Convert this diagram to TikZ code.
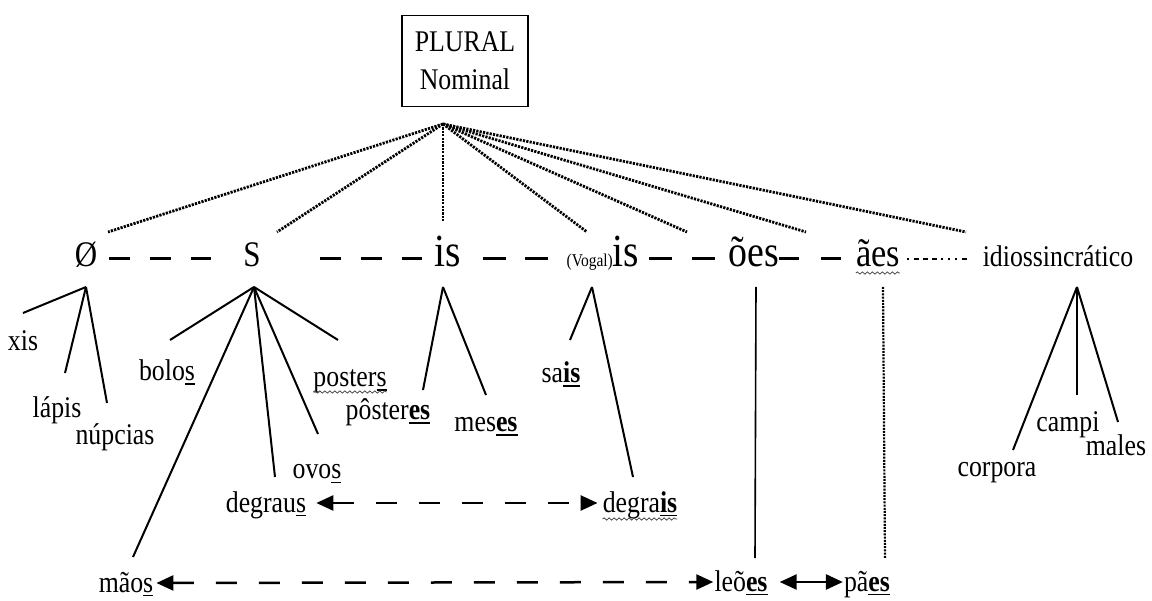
\documentclass[tikz,border=0pt]{standalone}
\usepackage{fontspec}
\setmainfont[FakeStretch=0.86]{Liberation Serif}
\usetikzlibrary{arrows.meta,decorations.pathmorphing,calc}
\newcommand{\ul}[1]{\leavevmode\setbox0\hbox{#1}\rlap{\raisebox{-4pt}{\rule{\wd0}{1.5pt}}}\box0}
\newcommand{\bul}[1]{\textbf{\ul{#1}}}
\begin{document}
\begin{tikzpicture}[x=1pt,y=-1pt,
  word/.style={inner sep=0pt, anchor=base, font=\fontsize{30}{34}\selectfont},
  mid/.style={inner sep=0pt, anchor=base, font=\fontsize{36}{40}\selectfont},
  big/.style={inner sep=0pt, anchor=base, font=\fontsize{46}{50}\selectfont},
  fan/.style={line width=2.8pt, dash pattern=on 2.2pt off 1.2pt},
  leg/.style={line width=2pt},
  rowdash/.style={line width=3pt, dash pattern=on 21pt off 20pt},
  arr/.style={line width=2.5pt, dash pattern=on 21pt off 22pt,
    {Triangle[length=17pt,width=15pt]}-{Triangle[length=17pt,width=15pt]}},
  wavy/.style={decorate, decoration={snake, amplitude=1.1pt, segment length=5pt}, line width=0.8pt, black!70}
]
\useasboundingbox (0,0) rectangle (1152,601);
\fill[white] (0,0) rectangle (1152,601);

% top box
\node[draw, line width=1.2pt, minimum width=126pt, minimum height=91pt, align=center,
  font=\fontsize{30}{38}\selectfont, inner sep=0pt] (plural) at (465,61) {PLURAL\\Nominal};
\coordinate (apex) at (443,124);

% level row
\node[mid] (zero) at (86,267) {Ø};
\node[mid] (S) at (252,267) {S};
\node[big] (is) at (448,267) {is};
\node[big] (vogal) at (603,267) {{\fontsize{18}{20}\selectfont(Vogal)}is};
\node[inner sep=0pt, anchor=base, font=\fontsize{44}{48}\selectfont] (oes) at (754,267) {ões};
\node[inner sep=0pt, anchor=base, font=\fontsize{40}{44}\selectfont] (aes) at (878,267) {ães};
\node[word] (idio) at (1058,267) {idiossincrático};

% fan ends
\coordinate (fzero) at (108,232);
\coordinate (fS) at (277,232);
\coordinate (fis) at (443,222);
\coordinate (fvogal) at (587,232);
\coordinate (foes) at (687,232);
\coordinate (faes) at (806,232);
\coordinate (fidio) at (966,232);
\foreach \e in {fzero,fS,fis,fvogal,foes,faes,fidio} \draw[fan] (apex) -- (\e);

% row dashes
\draw[rowdash, shorten <=12pt, shorten >=32pt] ([yshift=8pt]zero.base east) -- ([yshift=8pt]S.base west);
\draw[rowdash, shorten <=59pt, shorten >=13pt] ([yshift=8pt]S.base east) -- ([yshift=8pt]is.base west);
\draw[rowdash, dash pattern=on 23pt off 19pt, shorten <=22pt, shorten >=15pt] ([yshift=8pt]is.base east) -- ([yshift=8pt]vogal.base west);
\draw[rowdash, dash pattern=on 23pt off 20pt, shorten <=10pt, shorten >=10pt] ([yshift=8pt]vogal.base east) -- ([yshift=8pt]oes.base west);
\draw[rowdash, dash pattern=on 20pt off 22pt, shorten <=0pt, shorten >=7pt] ([yshift=8pt]oes.base east) -- ([yshift=8pt]aes.base west);
\draw[line width=2pt, dash pattern=on 2pt off 5pt on 5pt off 4pt on 5pt off 4pt on 5pt off 4pt on 2pt off 5pt on 2pt off 5pt, shorten <=7pt, shorten >=12pt] ([yshift=8pt]aes.base east) -- ([yshift=8pt]idio.base west);

% words
\node[word] (xis) at (23,351) {xis};
\node[word] (lapis) at (57,418) {lápis};
\node[word] (nupcias) at (115,445) {núpcias};
\node[word] (bolos) at (167,381) {bolo\ul{s}};
\node[word] (posters) at (350,387) {poster\ul{s}};
\node[word] (posteres) at (388,420) {pôster\bul{es}};
\node[word] (meses) at (486,432) {mes\bul{es}};
\node[word] (sais) at (561,383) {sa\bul{is}};
\node[word] (ovos) at (317,479) {ovo\ul{s}};
\node[word] (degraus) at (266,512) {degrau\ul{s}};
\node[word] (degrais) at (640,512) {degra\bul{is}};
\node[word] (corpora) at (997,477) {corpora};
\node[word] (campi) at (1068,432) {campi};
\node[word] (males) at (1116,456) {males};
\node[word] (maos) at (126,592) {mão\ul{s}};
\node[word] (leoes) at (741,591) {leõ\bul{es}};
\node[word] (paes) at (867,591) {pã\bul{es}};

% wavy underlines
\draw[wavy] ([yshift=-5pt]posters.base west) -- ([yshift=-5pt]posters.base east);
\draw[wavy] ([yshift=-6pt]aes.base west) -- ([yshift=-6pt]aes.base east);
\draw[wavy] ([yshift=-7pt]degrais.base west) -- ([yshift=-7pt]degrais.base east);

% child legs
\coordinate (azero) at (86,287);
\coordinate (aS) at (254,287);
\coordinate (ais) at (443,287);
\coordinate (avogal) at (592,287);
\coordinate (aoes) at (756,287);
\coordinate (aaes) at (883,287);
\coordinate (aidio) at (1077,287);

\coordinate (exis) at (23,313);
\coordinate (elapis) at (65,373);
\coordinate (enupcias) at (107,403);
\coordinate (ebolos) at (170,340);
\coordinate (emaos) at (133,557);
\coordinate (edegraus) at (275,477);
\coordinate (eovos) at (318,434);
\coordinate (eposters) at (338,340);
\coordinate (eposteres) at (423,390);
\coordinate (emeses) at (486,395);
\coordinate (esais) at (570,340);
\coordinate (edegrais) at (633,477);
\coordinate (eleoes) at (755,558);
\coordinate (epaes) at (885,558);
\coordinate (ecorpora) at (1013,450);
\coordinate (ecampi) at (1077,395);
\coordinate (emales) at (1118,422);

\foreach \e in {exis,elapis,enupcias} \draw[leg] (azero) -- (\e);
\foreach \e in {ebolos,emaos,edegraus,eovos,eposters} \draw[leg] (aS) -- (\e);
\foreach \e in {eposteres,emeses} \draw[leg] (ais) -- (\e);
\foreach \e in {esais,edegrais} \draw[leg] (avogal) -- (\e);
\draw[line width=1.6pt] (aoes) -- (eleoes);
\draw[line width=2.2pt, dash pattern=on 2pt off 1.2pt] (aaes) -- (epaes);
\foreach \e in {ecorpora,ecampi,emales} \draw[leg] (aidio) -- (\e);

% arrows
\draw[arr, shorten <=10pt, shorten >=5pt] ([yshift=9pt]degraus.base east) -- ([yshift=9pt]degrais.base west);
\draw[arr, shorten <=3pt, shorten >=1pt] ([yshift=9pt]maos.base east) -- ([yshift=9pt]leoes.base west);
\draw[line width=2.5pt, {Triangle[length=17pt,width=15pt]}-{Triangle[length=17pt,width=15pt]}, shorten <=12pt, shorten >=1pt] ([yshift=9pt]leoes.base east) -- ([yshift=9pt]paes.base west);
\end{tikzpicture}
\end{document}
